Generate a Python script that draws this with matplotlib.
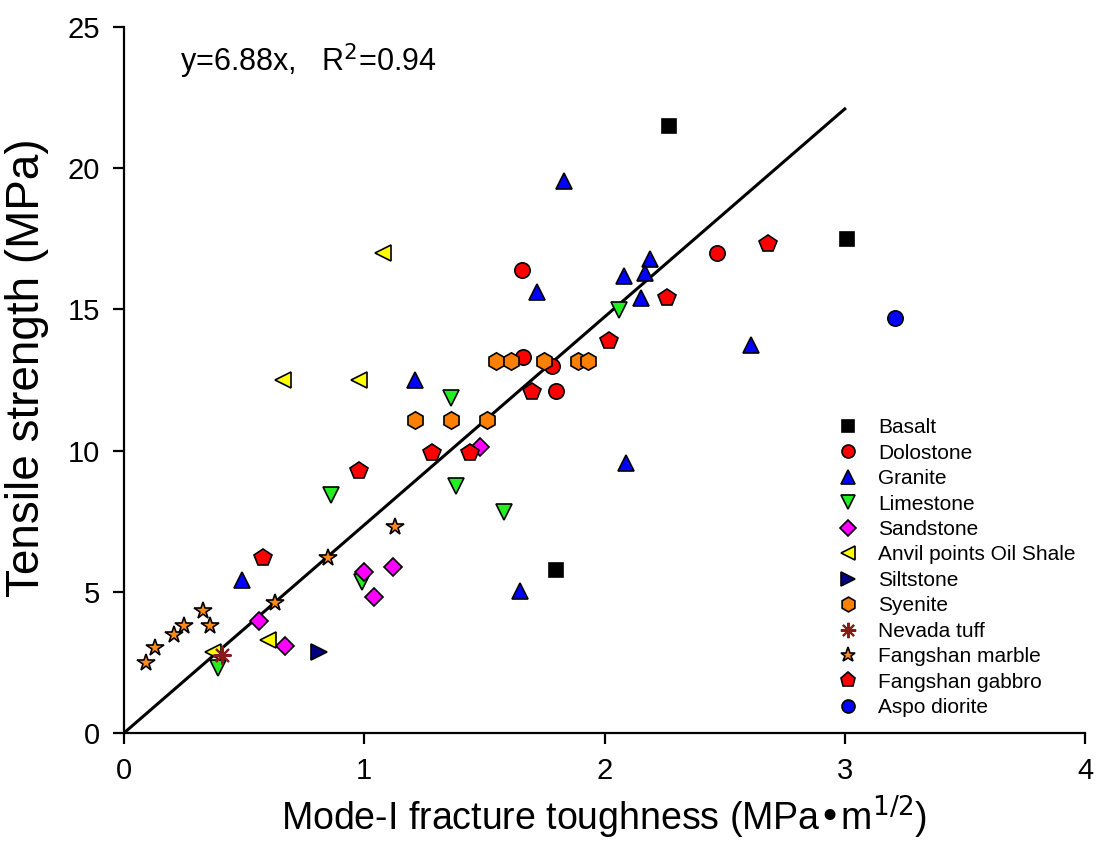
import matplotlib
matplotlib.use("Agg")
import matplotlib.pyplot as plt

plt.rcParams['font.family'] = ['Liberation Sans', 'DejaVu Sans']

# Data
basalt_x = [2.27, 3.01, 1.80]
basalt_y = [21.5, 17.5, 5.77]

dolostone_x = [1.655, 2.47, 1.66, 1.78, 1.80]
dolostone_y = [16.4, 17.0, 13.3, 13.0, 12.1]

granite_x = [1.83, 1.72, 2.19, 2.08, 2.17, 2.15, 1.21, 2.61, 2.09, 1.65, 0.49]
granite_y = [19.55, 15.6, 16.8, 16.2, 16.3, 15.4, 12.5, 13.75, 9.55, 5.03, 5.43]

limestone_x = [0.39, 0.99, 1.36, 1.38, 1.58, 0.86, 2.06]
limestone_y = [2.29, 5.36, 11.85, 8.75, 7.84, 8.43, 14.98]

sandstone_x = [0.563, 0.67, 1.00, 1.12, 1.04, 1.48]
sandstone_y = [3.98, 3.08, 5.71, 5.87, 4.81, 10.12]

oilshale_x = [0.37, 0.60, 0.66, 0.98, 1.08]
oilshale_y = [2.88, 3.29, 12.5, 12.5, 17.0]

siltstone_x = [0.81]
siltstone_y = [2.88]

syenite_x = [1.21, 1.36, 1.51, 1.55, 1.61, 1.75, 1.89, 1.93]
syenite_y = [11.07, 11.07, 11.07, 13.18, 13.18, 13.18, 13.18, 13.18]

tuff_x = [0.41]
tuff_y = [2.76]

marble_x = [0.09, 0.13, 0.21, 0.25, 0.33, 0.36, 0.63, 0.85, 1.13]
marble_y = [2.49, 3.0, 3.47, 3.79, 4.32, 3.79, 4.59, 6.18, 7.28]

gabbro_x = [0.58, 0.98, 1.28, 1.44, 1.70, 2.02, 2.26, 2.68]
gabbro_y = [6.18, 9.29, 9.9, 9.9, 12.09, 13.89, 15.39, 17.3]

diorite_x = [3.21]
diorite_y = [14.7]

fit_x = [0.0, 3.0]
fit_y = [0.0, 22.1]

fig = plt.figure(figsize=(10.99, 8.55), dpi=100)
ax = fig.add_axes([0.1128, 0.1427, 0.8745, 0.8257])

ax.plot(fit_x, fit_y, color='black', lw=2.2, zorder=1)

series = [
    ('Basalt', basalt_x, basalt_y, 's', 'black', 9.5),
    ('Dolostone', dolostone_x, dolostone_y, 'o', '#ff0000', 11),
    ('Granite', granite_x, granite_y, '^', '#0000ff', 12),
    ('Limestone', limestone_x, limestone_y, 'v', '#22ee22', 12),
    ('Sandstone', sandstone_x, sandstone_y, 'D', '#ff00ff', 9),
    ('Anvil points Oil Shale', oilshale_x, oilshale_y, '<', '#ffff00', 12),
    ('Siltstone', siltstone_x, siltstone_y, '>', '#000080', 12),
    ('Syenite', syenite_x, syenite_y, 'h', '#ff8000', 12.5),
    ('Nevada tuff', tuff_x, tuff_y, (8, 2, 0), '#8b1a1a', 13),
    ('Fangshan marble', marble_x, marble_y, '*', '#ff8c1a', 13),
    ('Fangshan gabbro', gabbro_x, gabbro_y, 'p', '#ff0000', 13),
    ('Aspo diorite', diorite_x, diorite_y, 'o', '#0000ff', 11),
]

for name, xs, ys, mk, col, ms in series:
    if mk == (8, 2, 0):
        ax.plot(xs, ys, ls='none', marker=mk, markersize=ms, color=col,
                markeredgecolor=col, markeredgewidth=1.5, label=name, zorder=3)
    else:
        ax.plot(xs, ys, ls='none', marker=mk, markersize=ms,
                markerfacecolor=col, markeredgecolor='black',
                markeredgewidth=1.2, label=name, zorder=3)

ax.set_xlim(0, 4)
ax.set_ylim(0, 25)
ax.set_xticks([0, 1, 2, 3, 4])
ax.set_yticks([0, 5, 10, 15, 20, 25])

for side in ['top', 'right']:
    ax.spines[side].set_visible(False)
for side in ['left', 'bottom']:
    ax.spines[side].set_linewidth(1.6)

ax.tick_params(axis='both', direction='out', length=8, width=1.6,
               labelsize=21, pad=9)

ax.set_xlabel('Mode-I fracture toughness (MPa\u2022m$^{1/2}$)', fontsize=27,
              labelpad=7)
ax.set_ylabel('Tensile strength (MPa)', fontsize=33)
ax.yaxis.set_label_coords(-0.078, 0.518)

ax.text(0.058, 0.98, 'y=6.88x,   R$^2$=0.94', transform=ax.transAxes,
        fontsize=22, va='top', ha='left')

ax.legend(loc='upper left', bbox_to_anchor=(0.7426, 0.446), frameon=False,
          fontsize=15, handlelength=1.0, handletextpad=0.94,
          labelspacing=0.31, borderpad=0, borderaxespad=0, markerscale=0.85)

fig.savefig('out.png', dpi=100)
